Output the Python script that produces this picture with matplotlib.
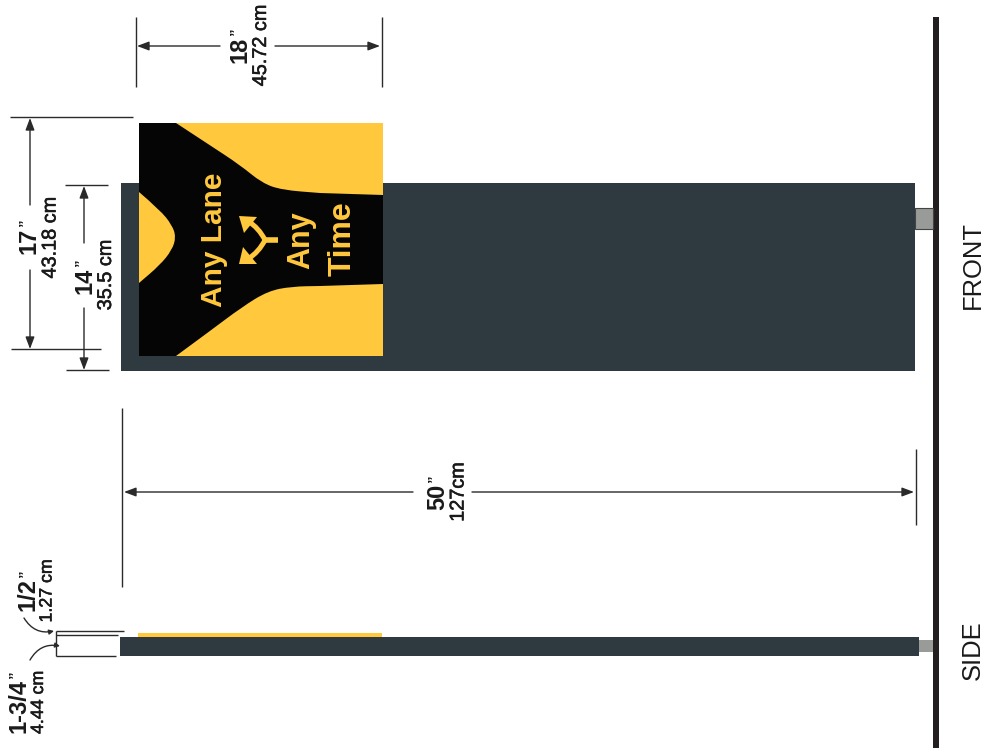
import numpy as np
from matplotlib import pyplot as plt
from matplotlib.patches import Rectangle, Polygon, PathPatch, FancyArrowPatch
from matplotlib.path import Path
import matplotlib.patheffects as pe

plt.rcParams['font.family'] = ['Liberation Sans', 'DejaVu Sans']
plt.rcParams['text.kerning_factor'] = 6

DARK = '#2f3a40'
YELLOW = '#ffc83d'
POLE = '#231f20'
GREY = '#999b98'
LINE = '#2a2a2a'
INK = '#1a1a1a'

# everything is measured in picture pixels
front_panel = (121, 183, 794, 188)
side_panel = (120, 637, 799, 19)
sign_box = (139, 123, 244, 233)
side_strip = (138, 633, 244, 4)
front_bracket = (915, 208, 18, 21)
side_bracket = (919, 640, 14, 12)
pole = (933, 17, 6, 731)

top_curve = [(176, 123), (210, 145.3), (240, 165), (262, 183), (282, 190), (320, 193), (383, 195), (383, 123)]
bottom_curve = [(176, 356), (210, 331), (242, 307), (268, 291), (292, 286.5), (320, 286), (383, 284), (383, 356)]
left_curve = [(139, 192), (160, 210), (172, 225), (176, 237), (172, 250), (160, 265), (139, 283)]

sign_labels = [("Any Lane", 214, 239.5, 21.5), ("Any", 301, 240, 22), ("Time", 343, 239, 23)]

# big inch figures, the small quote mark is added on top of them
inch_labels = [
    ("18", 240, 49.5), ("17", 29, 241), ("14", 85, 281),
    ("50", 437.5, 497), ("1/2", 28.5, 594.5), ("1-3/4", 19, 706),
]
cm_labels = [
    ("45.72 cm", 260.5, 45.5, 14.3), ("43.18 cm", 50, 237.5, 14.3), ("35.5 cm", 105.5, 275, 14.3),
    ("127cm", 458, 492, 14.3), ("1.27 cm", 47, 591, 12.8), ("4.44 cm", 38.5, 702.5, 12.8),
]
view_labels = [("FRONT", 972.5, 265), ("SIDE", 972.5, 650)]

# extension lines: x0, y0, x1, y1
ext_lines = [
    (136, 17, 136, 87), (381.5, 17, 381.5, 87),
    (10, 117, 133, 117), (11, 349, 101, 349),
    (65, 185, 108, 185), (66, 370, 109, 370),
    (122, 408, 122, 587), (916, 449, 916, 525),
    (56, 631, 124, 631), (56, 635, 118, 635), (56, 656, 116, 656), (56, 631, 56, 656),
]
# arrows: tail x, tail y, tip x, tip y
dim_arrows = [
    (220, 46, 137, 46), (275, 46, 380, 46),
    (30, 205, 30, 118), (30, 270, 30, 349),
    (84, 243, 84, 186), (84, 308, 84, 370),
    (413, 492, 124, 492), (472, 492, 914, 492),
]

fig = plt.figure(figsize=(9.85, 7.53), dpi=100)
ax = fig.add_axes([0, 0, 1, 1])
ax.set_xlim(0, 985)
ax.set_ylim(753, 0)
ax.axis('off')


def box(r, color, **kw):
    ax.add_patch(Rectangle((r[0], r[1]), r[2], r[3], facecolor=color, edgecolor='none', **kw))


def smooth(points, corners=0):
    # curve through the points, the last "corners" ones are joined straight
    pts = points[:len(points) - corners]
    verts = [pts[0]]
    codes = [Path.MOVETO]
    for i in range(1, len(pts) - 1):
        mid = ((pts[i][0] + pts[i + 1][0]) / 2, (pts[i][1] + pts[i + 1][1]) / 2)
        verts += [pts[i], mid]
        codes += [Path.CURVE3, Path.CURVE3]
    verts.append(pts[-1])
    codes.append(Path.LINETO)
    for p in points[len(pts):]:
        verts.append(p)
        codes.append(Path.LINETO)
    verts.append(points[0])
    codes.append(Path.CLOSEPOLY)
    return Path(verts, codes)


box(front_panel, DARK)
box(side_panel, DARK)
box(pole, POLE)
box(front_bracket, GREY)
box(side_bracket, GREY)
ax.add_patch(Rectangle(front_bracket[:2], front_bracket[2], front_bracket[3], fill=False, edgecolor='#444444', lw=0.8))
box(side_strip, YELLOW)

# sign face
box(sign_box, '#050505')
ax.add_patch(PathPatch(smooth(top_curve, 2), facecolor=YELLOW, edgecolor='none'))
ax.add_patch(PathPatch(smooth(bottom_curve, 2), facecolor=YELLOW, edgecolor='none'))
ax.add_patch(PathPatch(smooth(left_curve), facecolor=YELLOW, edgecolor='none'))

# fork arrow
ax.plot([278, 263], [240, 240], color=YELLOW, lw=4, solid_capstyle='butt')
fork_up = Path([(265, 240), (259, 228), (248, 221)], [Path.MOVETO, Path.CURVE3, Path.CURVE3])
fork_dn = Path([(265, 240), (259, 252), (248, 259)], [Path.MOVETO, Path.CURVE3, Path.CURVE3])
for p in (fork_up, fork_dn):
    ax.add_patch(PathPatch(p, facecolor='none', edgecolor=YELLOW, lw=3.6))
ax.add_patch(Polygon([(239, 216), (257, 217), (244, 233)], facecolor=YELLOW, edgecolor='none'))
ax.add_patch(Polygon([(239, 264), (257, 264), (243, 247)], facecolor=YELLOW, edgecolor='none'))

for s, x, y, size in sign_labels:
    ax.text(x, y, s, rotation=90, ha='center', va='center', color=YELLOW, fontsize=size, fontweight='bold')

for x0, y0, x1, y1 in ext_lines:
    ax.plot([x0, x1], [y0, y1], color=LINE, lw=1.0, solid_capstyle='butt')

for x0, y0, x1, y1 in dim_arrows:
    ax.add_patch(FancyArrowPatch((x0, y0), (x1, y1), arrowstyle='-|>,head_length=0.8,head_width=0.3',
                                 mutation_scale=9, color=LINE, lw=1.0, shrinkA=0, shrinkB=0))

# the two curved leaders by the side view
ax.add_patch(FancyArrowPatch((24, 618), (54, 631), connectionstyle='arc3,rad=0.35', arrowstyle='-|>',
                             mutation_scale=7, color=LINE, lw=1.0, shrinkA=0, shrinkB=0))
ax.add_patch(FancyArrowPatch((30, 660), (60, 646), connectionstyle='arc3,rad=-0.35', arrowstyle='-|>',
                             mutation_scale=7, color=LINE, lw=1.0, shrinkA=0, shrinkB=0))

for s, x, y in inch_labels:
    t = ax.text(x, y, s, rotation=90, ha='center', va='center', color=INK, fontsize=17, fontweight='bold')
    ax.annotate('”', xy=(0, 1), xycoords=t, xytext=(0, 1), textcoords='offset points', rotation=90,
                ha='left', va='bottom', color=INK, fontsize=11, fontweight='bold')

for s, x, y, size in cm_labels:
    ax.text(x, y, s, rotation=90, ha='center', va='center', color=INK, fontsize=size,
            path_effects=[pe.withStroke(linewidth=0.4, foreground=INK)])

for s, x, y in view_labels:
    ax.text(x, y, s, rotation=90, ha='center', va='center', color=INK, fontsize=18.4)

fig.savefig('out.png', dpi=100)
